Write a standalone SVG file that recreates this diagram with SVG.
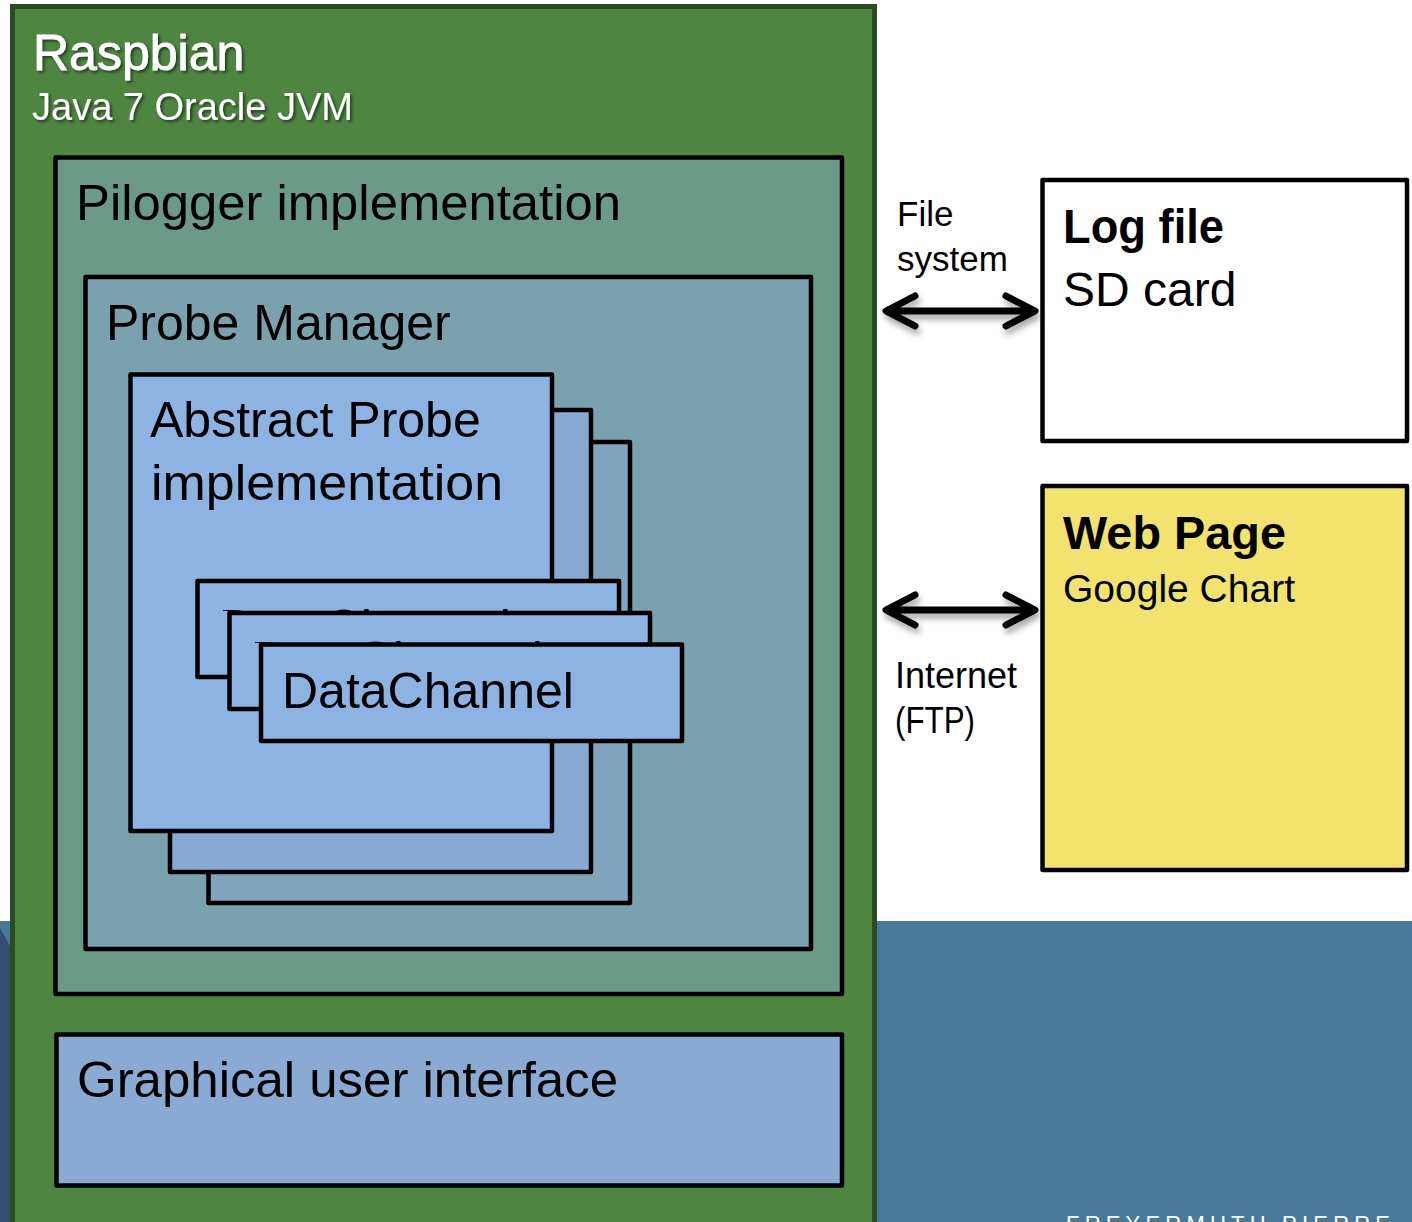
<svg xmlns="http://www.w3.org/2000/svg" width="1412" height="1222" viewBox="0 0 1412 1222">
<defs>
<filter id="tsh" x="-10%" y="-30%" width="130%" height="170%">
<feDropShadow dx="2" dy="2" stdDeviation="1.5" flood-color="#000" flood-opacity="0.55"/>
</filter>
<filter id="ash" x="-10%" y="-50%" width="130%" height="220%">
<feDropShadow dx="2" dy="5" stdDeviation="3" flood-color="#000" flood-opacity="0.35"/>
</filter>
<clipPath id="c1"><rect x="197" y="575" width="440" height="36"/></clipPath>
<clipPath id="c2"><rect x="229" y="607" width="440" height="36"/></clipPath>
</defs>
<style>
text{font-family:"Liberation Sans",Arial,sans-serif}
.box{stroke:#000;stroke-width:4.5;stroke-linejoin:round}
.lbl{font-size:50px;fill:#000}
.wt{fill:#fff;filter:url(#tsh)}
.arr{fill:none;stroke:#000;stroke-width:7;stroke-linecap:round;stroke-linejoin:round}
</style>
<rect x="0" y="0" width="1412" height="1222" fill="#fff"/>
<rect x="0" y="921" width="1412" height="301" fill="#497999"/>
<polygon points="0,928 10,946 10,1222 0,1222" fill="#344D6E"/>
<text x="1066" y="1231" font-size="22" letter-spacing="5.2" fill="#fff">FREYERMUTH PIERRE</text>

<g id="raspbian">
<rect x="12.5" y="6.5" width="862" height="1240" fill="#4E8541" stroke="#2B4A26" stroke-width="5"/>
<text class="wt" x="33" y="70" font-size="50" stroke="#fff" stroke-width="0.8">Raspbian</text>
<text class="wt" x="32" y="120" font-size="38">Java 7 Oracle JVM</text>
</g>

<g id="pilogger">
<rect class="box" x="55.5" y="157.5" width="786.5" height="836.5" fill="#6B9A88"/>
<text class="lbl" x="76" y="220" textLength="545" lengthAdjust="spacingAndGlyphs">Pilogger implementation</text>
</g>

<g id="probe-manager">
<rect class="box" x="85.5" y="277" width="725.5" height="672" fill="#7AA2AE"/>
<text class="lbl" x="106" y="340">Probe Manager</text>
</g>

<g id="abstract-probe">
<rect class="box" x="208.5" y="442" width="421.5" height="461" fill="#80A4BC"/>
<rect class="box" x="170" y="410" width="421" height="462" fill="#87AAD2"/>
<rect class="box" x="130.5" y="374.5" width="421.5" height="456.5" fill="#8DB3E2"/>
<text class="lbl" x="150" y="437">Abstract Probe</text>
<text class="lbl" x="151" y="500" textLength="352" lengthAdjust="spacingAndGlyphs">implementation</text>
</g>

<g id="datachannel-1">
<rect class="box" x="197.5" y="581" width="421.5" height="96" fill="#8DB3E2"/>
<text class="lbl" x="219" y="645" clip-path="url(#c1)">DataChannel</text>
</g>
<g id="datachannel-2">
<rect class="box" x="229.5" y="613" width="420.5" height="96" fill="#8DB3E2"/>
<text class="lbl" x="251" y="677" clip-path="url(#c2)">DataChannel</text>
</g>
<g id="datachannel-3">
<rect class="box" x="261" y="644.5" width="421" height="96.5" fill="#8DB3E2"/>
<text class="lbl" x="282" y="708">DataChannel</text>
</g>

<g id="gui">
<rect class="box" x="56.5" y="1034.5" width="785.5" height="151" fill="#88AAD3"/>
<text class="lbl" x="77" y="1097" textLength="541" lengthAdjust="spacingAndGlyphs">Graphical user interface</text>
</g>

<g id="log-file">
<rect class="box" x="1042.5" y="180" width="364.5" height="261" fill="#fff"/>
<text x="1063" y="243" font-size="48" font-weight="bold" textLength="161" lengthAdjust="spacingAndGlyphs">Log file</text>
<text x="1063" y="306" font-size="48">SD card</text>
</g>

<g id="web-page">
<rect class="box" x="1042.5" y="486" width="364.5" height="384" fill="#F2E36F"/>
<text x="1063" y="549" font-size="47" font-weight="bold" textLength="223" lengthAdjust="spacingAndGlyphs">Web Page</text>
<text x="1063" y="602" font-size="39">Google Chart</text>
</g>

<g id="connectors">
<g filter="url(#ash)">
<path class="arr" d="M888,311 H1033 M915,296 L886,311 L915,326 M1006,296 L1035,311 L1006,326"/>
<path class="arr" d="M888,610 H1033 M915,595 L886,610 L915,625 M1006,595 L1035,610 L1006,625"/>
</g>
<text x="897" y="226" font-size="35">File</text>
<text x="897" y="271" font-size="35">system</text>
<text x="895" y="688" font-size="36">Internet</text>
<text x="895" y="733" font-size="36" textLength="80" lengthAdjust="spacingAndGlyphs">(FTP)</text>
</g>
</svg>
